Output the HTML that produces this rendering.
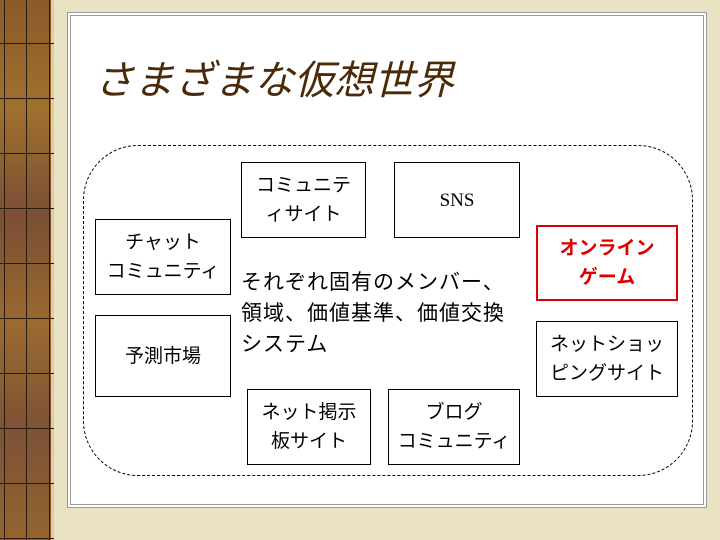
<!DOCTYPE html>
<html><head><meta charset="utf-8"><style>
body{margin:0;width:720px;height:540px;position:relative;overflow:hidden;background:#e9e3c4;font-family:"Liberation Sans","Noto Sans CJK JP",sans-serif}
.strip{position:absolute;left:0;top:0;width:54px;height:540px;background:linear-gradient(180deg,#8a5a2a,#a0702e 20%,#7a4f35 40%,#9a6a30 60%,#7d5236 80%,#946430);border-right:3px solid #d8cfa8;box-sizing:border-box}
.strip i{position:absolute;left:0;width:54px;height:1px;background:#2a1a0a}
.strip b{position:absolute;top:0;height:540px;width:1px;background:#2a1a0a}
.frame{position:absolute;left:70px;top:15px;width:634px;height:490px;background:#fff;border:1px solid #999;box-shadow:0 0 0 2px #fff,0 0 0 3px #999;box-sizing:border-box}
.t{position:absolute;left:94px;top:48px;font-size:40px;font-style:italic;color:#4a2a08;font-family:"Noto Sans CJK JP",sans-serif;white-space:nowrap}
.dash{position:absolute;left:83px;top:145px;width:610px;height:331px;border:1px dashed #000;border-radius:55px;box-sizing:border-box}
.b{position:absolute;border:1px solid #000;box-sizing:border-box;display:flex;align-items:center;justify-content:center;text-align:center;font-size:19px;line-height:29px;background:#fff;white-space:nowrap}
.r{border:2px solid #d00;color:#d00;font-weight:bold}
.tx{position:absolute;left:241px;top:267px;font-size:21px;letter-spacing:1px;line-height:31px;white-space:nowrap}
</style></head><body>
<div class="strip"><i style="top:43px"></i><i style="top:98px"></i><i style="top:153px"></i><i style="top:208px"></i><i style="top:263px"></i><i style="top:318px"></i><i style="top:373px"></i><i style="top:428px"></i><i style="top:483px"></i><i style="top:538px"></i><b style="left:4px"></b><b style="left:26px"></b><b style="left:49px"></b></div>
<div class="frame"></div>
<div class="t">さまざまな仮想世界</div>
<div class="dash"></div>
<div class="b" style="left:241px;top:162px;width:125px;height:76px">コミュニテ<br>ィサイト</div>
<div class="b" style="left:394px;top:162px;width:126px;height:76px;font-family:'Liberation Serif',serif">SNS</div>
<div class="b" style="left:95px;top:219px;width:136px;height:76px">チャット<br>コミュニティ</div>
<div class="b r" style="left:536px;top:225px;width:142px;height:76px">オンライン<br>ゲーム</div>
<div class="b" style="left:95px;top:315px;width:136px;height:82px">予測市場</div>
<div class="b" style="left:536px;top:321px;width:142px;height:76px">ネットショッ<br>ピングサイト</div>
<div class="b" style="left:247px;top:389px;width:124px;height:76px">ネット掲示<br>板サイト</div>
<div class="b" style="left:388px;top:389px;width:132px;height:76px">ブログ<br>コミュニティ</div>
<div class="tx">それぞれ固有のメンバー、<br>領域、価値基準、価値交換<br>システム</div>
</body></html>
